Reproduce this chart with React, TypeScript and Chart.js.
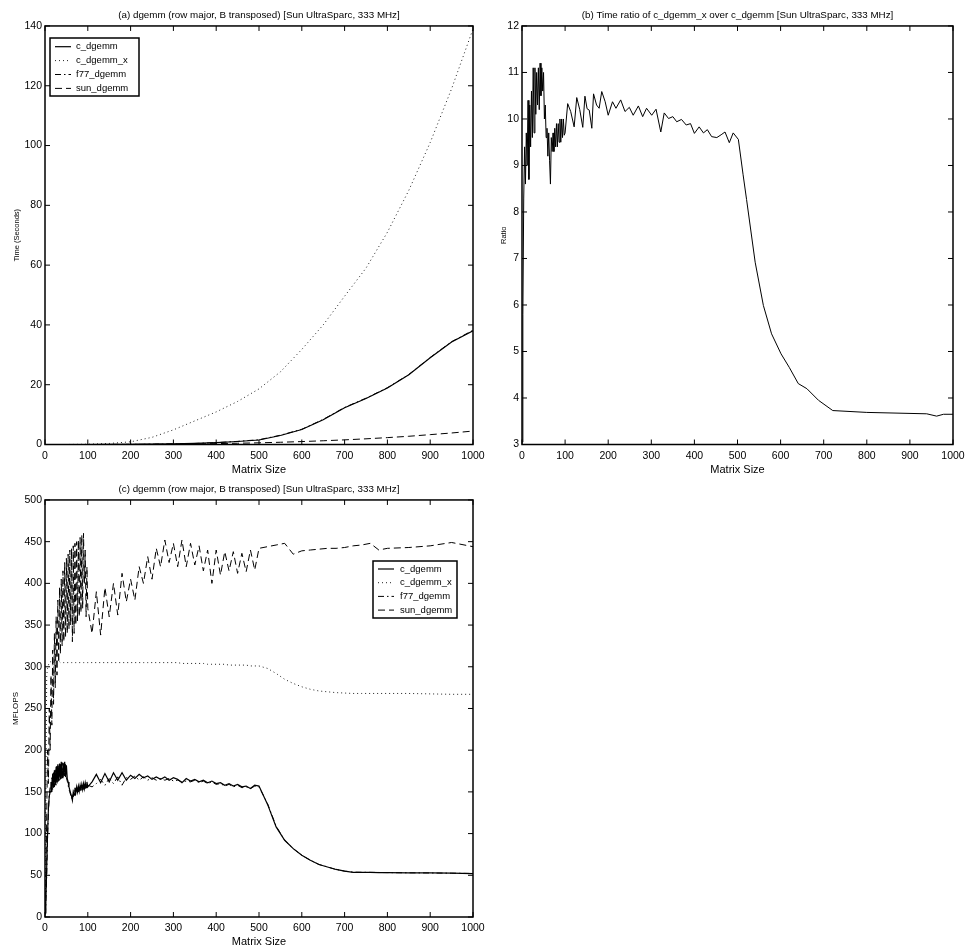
import React, { useEffect, useRef } from 'react';
import { Chart, registerables } from 'chart.js';

Chart.register(...registerables);

const FONT = "'Liberation Sans', Arial, Helvetica, sans-serif";

// ---------- (a) Time vs matrix size ----------
const timeSizes = [0, 50, 100, 150, 200, 250, 300, 350, 400, 450, 500, 550, 600, 650, 700, 750, 800, 850, 900, 950, 1000];
const timeCDgemm = [0, 0, 0, 0.02, 0.05, 0.1, 0.2, 0.35, 0.6, 1.0, 1.5, 3.0, 5.0, 8.3, 12.3, 15.4, 18.9, 23.3, 29.0, 34.3, 38];
const timeCDgemmX = [0, 0, 0.1, 0.35, 0.9, 2.4, 4.9, 7.9, 10.9, 14.4, 18.6, 24.3, 31.8, 40, 49.6, 59, 71, 85, 101, 119, 139];
const timeF77Dgemm = [0, 0, 0, 0.02, 0.05, 0.1, 0.2, 0.35, 0.62, 1.05, 1.6, 3.1, 5.1, 8.4, 12.4, 15.5, 19, 23.4, 29.1, 34.4, 38.2];
const timeSunDgemm = [0, 0, 0, 0.01, 0.03, 0.06, 0.12, 0.2, 0.3, 0.42, 0.56, 0.75, 0.98, 1.25, 1.55, 1.9, 2.3, 2.75, 3.3, 3.85, 4.5];

// ---------- (b) Time ratio ----------
const ratioSizes = [
  1, 2, 4, 6, 8, 10, 12, 14, 16, 18, 20, 22, 24, 26, 28, 30, 32, 34, 36, 38, 40, 42, 44, 46, 48, 50,
  52, 54, 56, 58, 60, 62, 64, 66, 68, 70, 72, 74, 76, 78, 80, 82, 84, 86, 88, 90, 92, 94, 96, 98, 100,
  106, 113, 121, 127, 134, 141, 146, 151, 156, 162, 166, 173, 179, 185, 193, 200, 210, 218, 229, 239,
  249, 258, 270, 280, 289, 301, 311, 322, 330, 340, 350, 359, 370, 381, 391, 400, 411, 421, 430, 440,
  452, 462, 471, 481, 490, 502,
  513, 521, 541, 560, 579, 601, 620, 641, 661, 688, 721, 800, 939, 962, 978, 1000,
];
const ratioValues = [
  3.05, 5.8, 8.3, 9.4, 8.6, 9.7, 9.0, 10.4, 8.7, 10.3, 9.4, 10.6, 9.6, 11.1, 9.7, 11.1, 10.1, 11.0, 10.3, 11.1, 10.2, 11.2, 10.5, 11.1, 10.6, 11.0,
  10.0, 10.3, 9.6, 9.8, 9.2, 9.7, 9.1, 8.6, 9.6, 9.3, 9.7, 9.3, 9.8, 9.4, 9.9, 9.4, 9.9, 9.5, 10.0, 9.5, 10.0, 9.6, 10.0, 9.65, 9.7,
  10.33, 10.16, 9.83, 10.46, 10.2, 9.82, 10.49, 10.22, 10.19, 9.8, 10.54, 10.3, 10.23, 10.59, 10.37, 10.08, 10.37, 10.23, 10.41, 10.16,
  10.25, 10.08, 10.28, 10.05, 10.23, 10.08, 10.21, 9.72, 10.13, 10.01, 10.05, 9.94, 9.99, 9.87, 9.9, 9.69, 9.83, 9.7, 9.77, 9.62,
  9.6, 9.66, 9.72, 9.49, 9.7, 9.56,
  8.8, 8.27, 6.92, 5.99, 5.38, 4.95, 4.66, 4.31, 4.2, 3.95, 3.73, 3.69, 3.66, 3.61, 3.65, 3.65,
];

// ---------- (c) MFLOPS ----------
const perfSizes = [
  1, 2, 4, 6, 8, 10, 12, 14, 16, 18, 20, 22, 24, 26, 28, 30, 32, 34, 36, 38, 40, 42, 44, 46, 48, 50,
  52, 54, 56, 58, 60, 62, 64, 66, 68, 70, 72, 74, 76, 78, 80, 82, 84, 86, 88, 90, 92, 94, 96, 98, 100,
  110, 120, 130, 140, 150, 160, 170, 180, 190, 200, 210, 220, 230, 240, 250, 260, 270, 280, 290, 300,
  310, 320, 330, 340, 350, 360, 370, 380, 390, 400, 410, 420, 430, 440, 450, 460, 470, 480, 490, 500,
  520, 540, 560, 580, 600, 620, 640, 660, 680, 700, 720, 740, 760, 780, 800, 850, 900, 950, 1000,
];
const mflopsCDgemm = [
  5, 20, 60, 100, 130, 145, 150, 162, 150, 172, 155, 176, 158, 180, 160, 183, 163, 184, 165, 186, 167, 185, 170, 186, 168, 182,
  166, 162, 156, 152, 148, 145, 140, 150, 146, 155, 149, 156, 150, 157, 151, 158, 152, 159, 153, 160, 154, 161, 155, 162, 156,
  162, 171, 161, 172, 162, 173, 164, 173, 164, 170, 166, 171, 167, 169, 165, 168, 165, 168, 164, 167,
  165, 161, 166, 163, 165, 162, 164, 161, 163, 160, 161, 158, 160, 157, 159, 156, 157, 154, 158, 157,
  135, 108, 92, 82, 74, 68, 63, 60, 57, 55, 53.5, 53.5, 53.5, 53.3, 53.2, 53, 52.8, 52.5, 52,
];
const mflopsCDgemmX = [
  0, 150, 290, 298, 302, 305, 306, 306, 305, 306, 305, 306, 305, 305, 306, 305, 305, 306, 305, 305, 305, 305, 305, 305, 305, 305,
  305, 305, 305, 305, 305, 305, 305, 305, 305, 305, 305, 305, 305, 305, 305, 305, 305, 305, 305, 305, 305, 305, 305, 305, 305,
  305, 305, 305, 305, 305, 305, 305, 305, 305, 305, 305, 305, 305, 305, 305, 305, 305, 305, 305, 305,
  305, 304, 304, 304, 304, 304, 304, 303, 303, 303, 303, 303, 302, 302, 302, 302, 302, 301, 301, 301,
  298, 292, 285, 280, 276, 273, 271, 270, 269, 268.5, 268, 268, 268, 268, 268, 268, 267.5, 267, 267,
];
const mflopsF77Dgemm = [
  3, 15, 50, 95, 125, 148, 155, 150, 168, 152, 173, 156, 178, 158, 181, 162, 182, 164, 184, 166, 185, 168, 184, 169, 183, 167,
  163, 158, 153, 150, 146, 142, 147, 144, 152, 148, 154, 149, 155, 150, 156, 151, 157, 152, 158, 153, 159, 154, 160, 155, 158,
  156, 160, 165, 158, 166, 160, 168, 158, 167, 165, 169, 164, 168, 164, 167, 164, 166, 164, 166, 163,
  164, 162, 163, 162, 164, 161, 163, 160, 162, 159, 160, 157, 159, 156, 158, 155, 156, 154, 157, 156,
  136, 109, 92, 82, 74, 68, 63, 60, 57, 55, 53.8, 53.6, 53.5, 53.4, 53.2, 53, 52.8, 52.5, 52.2,
];
const mflopsSunDgemm = [
  10, 40, 120, 200, 160, 250, 200, 290, 230, 320, 255, 340, 275, 360, 290, 380, 305, 395, 315, 405, 325, 415, 330, 425, 335, 430,
  340, 435, 345, 440, 350, 442, 330, 445, 340, 448, 350, 450, 355, 452, 360, 455, 365, 458, 370, 460, 400, 440, 360, 420, 370,
  340, 390, 338, 395, 360, 400, 362, 412, 378, 405, 380, 420, 400, 432, 405, 442, 420, 452, 425, 448,
  420, 452, 420, 448, 422, 445, 415, 440, 400, 440, 410, 438, 415, 438, 412, 436, 414, 440, 416, 442,
  444, 446, 448, 435, 439, 440, 441, 442, 442, 443, 445, 446, 448, 440, 442, 443, 445, 449, 444,
];

const seriesLabels = ['c_dgemm', 'c_dgemm_x', 'f77_dgemm', 'sun_dgemm'];

const STYLE_SOLID = { borderColor: '#000', borderWidth: 1.2, borderDash: [] as number[] };
const STYLE_DOT = { borderColor: '#222', borderWidth: 1, borderDash: [1, 3] };
const STYLE_DASHDOT = { borderColor: '#000', borderWidth: 1, borderDash: [6, 3, 1.5, 3] };
const STYLE_DASH = { borderColor: '#000', borderWidth: 1, borderDash: [7, 4] };

const pts = (xs: number[], ys: number[]) => xs.map((x, i) => ({ x, y: ys[i] }));

const matlabBox = {
  id: 'matlabBox',
  afterDatasetsDraw(chart: any, _args: any, opts: any) {
    const { ctx, chartArea, scales } = chart;
    const { left, right, top, bottom } = chartArea;
    const tl = 5;
    ctx.save();
    ctx.strokeStyle = '#000';
    ctx.setLineDash([]);
    ctx.lineWidth = 1;
    ctx.beginPath();
    scales.x.ticks.forEach((t: any) => {
      const p = scales.x.getPixelForValue(t.value);
      ctx.moveTo(p, bottom);
      ctx.lineTo(p, bottom - tl);
      ctx.moveTo(p, top);
      ctx.lineTo(p, top + tl);
    });
    scales.y.ticks.forEach((t: any) => {
      const p = scales.y.getPixelForValue(t.value);
      ctx.moveTo(left, p);
      ctx.lineTo(left + tl, p);
      ctx.moveTo(right, p);
      ctx.lineTo(right - tl, p);
    });
    ctx.stroke();
    ctx.lineWidth = 1.5;
    ctx.strokeRect(left, top, right - left, bottom - top);

    const L = opts && opts.legend;
    if (L) {
      ctx.fillStyle = '#fff';
      ctx.fillRect(L.x, L.y, L.w, L.h);
      ctx.lineWidth = 1.5;
      ctx.strokeStyle = '#000';
      ctx.strokeRect(L.x, L.y, L.w, L.h);
      ctx.font = `${L.fontSize}px ${FONT}`;
      ctx.textBaseline = 'middle';
      ctx.textAlign = 'left';
      chart.data.datasets.forEach((ds: any, i: number) => {
        const y = L.rowY + i * L.rowStep;
        ctx.strokeStyle = ds.borderColor;
        ctx.lineWidth = ds.borderWidth;
        ctx.setLineDash(ds.borderDash || []);
        ctx.beginPath();
        ctx.moveTo(L.sampleX, y);
        ctx.lineTo(L.sampleX + L.sampleW, y);
        ctx.stroke();
        ctx.setLineDash([]);
        ctx.fillStyle = '#000';
        ctx.fillText(ds.label, L.textX, y);
      });
    }
    ctx.restore();
  },
};

type Cfg = {
  datasets: any[];
  title: string;
  titlePadTop: number;
  titlePadBottom: number;
  yMin: number;
  yMax: number;
  yStep: number;
  yTitle: string;
  yTitleSize: number;
  yTitlePad: number;
  yWidth: number;
  xHeight: number;
  xTitlePadBottom: number;
  padRight: number;
  legend?: any;
};

function buildConfig(c: Cfg): any {
  const tickFont = { family: FONT, size: 10.5 };
  return {
    type: 'line',
    data: { datasets: c.datasets },
    plugins: [matlabBox],
    options: {
      animation: false,
      responsive: false,
      devicePixelRatio: 1,
      events: [],
      layout: { padding: { left: 0, right: c.padRight, top: 0, bottom: 0 } },
      elements: { point: { radius: 0 }, line: { tension: 0 } },
      plugins: {
        legend: { display: false },
        tooltip: { enabled: false },
        title: {
          display: true,
          text: c.title,
          fullSize: false,
          color: '#000',
          font: { family: FONT, size: 9.8, weight: 'normal' },
          padding: { top: c.titlePadTop, bottom: c.titlePadBottom },
        },
        matlabBox: { legend: c.legend },
      },
      scales: {
        x: {
          type: 'linear',
          min: 0,
          max: 1000,
          grid: { display: false, drawTicks: false },
          border: { display: false },
          ticks: {
            stepSize: 100,
            autoSkip: false,
            maxRotation: 0,
            color: '#000',
            font: tickFont,
            padding: 5,
            callback: (v: any) => String(v),
          },
          title: {
            display: true,
            text: 'Matrix Size',
            color: '#000',
            font: { family: FONT, size: 11 },
            padding: { top: 0, bottom: c.xTitlePadBottom },
          },
          afterFit: (s: any) => {
            s.height = c.xHeight;
            s.paddingLeft = 0;
            s.paddingRight = 0;
          },
        },
        y: {
          type: 'linear',
          min: c.yMin,
          max: c.yMax,
          grid: { display: false, drawTicks: false },
          border: { display: false },
          ticks: {
            stepSize: c.yStep,
            autoSkip: false,
            color: '#000',
            font: tickFont,
            padding: 3,
            callback: (v: any) => String(v),
          },
          title: {
            display: true,
            text: c.yTitle,
            color: '#000',
            font: { family: FONT, size: c.yTitleSize },
            padding: { top: c.yTitlePad, bottom: 0 },
          },
          afterFit: (s: any) => {
            s.width = c.yWidth;
            s.paddingTop = 0;
            s.paddingBottom = 0;
          },
        },
      },
    },
  };
}

function ChartCanvas({ left, top, width, height, make }: { left: number; top: number; width: number; height: number; make: () => any }) {
  const ref = useRef<HTMLCanvasElement | null>(null);
  useEffect(() => {
    if (!ref.current) return;
    const chart = new Chart(ref.current, make());
    return () => chart.destroy();
  }, []);
  return (
    <canvas
      ref={ref}
      width={width}
      height={height}
      style={{ position: 'absolute', left, top, width, height, display: 'block' }}
    />
  );
}

const makeA = () =>
  buildConfig({
    datasets: [
      { label: seriesLabels[0], data: pts(timeSizes, timeCDgemm), ...STYLE_SOLID },
      { label: seriesLabels[1], data: pts(timeSizes, timeCDgemmX), ...STYLE_DOT },
      { label: seriesLabels[2], data: pts(timeSizes, timeF77Dgemm), ...STYLE_DASHDOT },
      { label: seriesLabels[3], data: pts(timeSizes, timeSunDgemm), ...STYLE_DASH },
    ],
    title: '(a) dgemm (row major, B transposed) [Sun UltraSparc, 333 MHz]',
    titlePadTop: 9.1,
    titlePadBottom: 5.1,
    yMin: 0,
    yMax: 140,
    yStep: 20,
    yTitle: 'Time (Seconds)',
    yTitleSize: 7.5,
    yTitlePad: 12,
    yWidth: 45,
    xHeight: 33.5,
    xTitlePadBottom: 1.9,
    padRight: 19,
    legend: { x: 50, y: 38, w: 89, h: 58, sampleX: 55, sampleW: 16, textX: 76, rowY: 46.7, rowStep: 13.9, fontSize: 9.5 },
  });

const makeB = () =>
  buildConfig({
    datasets: [{ label: 'ratio', data: pts(ratioSizes, ratioValues), borderColor: '#000', borderWidth: 1, borderDash: [] }],
    title: '(b) Time ratio of c_dgemm_x over c_dgemm [Sun UltraSparc, 333 MHz]',
    titlePadTop: 9.1,
    titlePadBottom: 5.1,
    yMin: 3,
    yMax: 12,
    yStep: 1,
    yTitle: 'Ratio',
    yTitleSize: 7.5,
    yTitlePad: 15,
    yWidth: 38,
    xHeight: 33.5,
    xTitlePadBottom: 1.9,
    padRight: 16,
  });

const makeC = () =>
  buildConfig({
    datasets: [
      { label: seriesLabels[0], data: pts(perfSizes, mflopsCDgemm), ...STYLE_SOLID },
      { label: seriesLabels[1], data: pts(perfSizes, mflopsCDgemmX), ...STYLE_DOT },
      { label: seriesLabels[2], data: pts(perfSizes, mflopsF77Dgemm), ...STYLE_DASHDOT },
      { label: seriesLabels[3], data: pts(perfSizes, mflopsSunDgemm), ...STYLE_DASH },
    ],
    title: '(c) dgemm (row major, B transposed) [Sun UltraSparc, 333 MHz]',
    titlePadTop: 5.4,
    titlePadBottom: 4.8,
    yMin: 0,
    yMax: 500,
    yStep: 50,
    yTitle: 'MFLOPS',
    yTitleSize: 8,
    yTitlePad: 11,
    yWidth: 45,
    xHeight: 33,
    xTitlePadBottom: 1.4,
    padRight: 19,
    legend: { x: 373, y: 83, w: 84, h: 57, sampleX: 378, sampleW: 16, textX: 400, rowY: 91, rowStep: 13.7, fontSize: 9.5 },
  });

export default function App() {
  return (
    <div style={{ position: 'absolute', left: 0, top: 0, width: 969, height: 950, background: '#fff' }}>
      <ChartCanvas left={0} top={0} width={492} height={478} make={makeA} />
      <ChartCanvas left={484} top={0} width={485} height={478} make={makeB} />
      <ChartCanvas left={0} top={478} width={492} height={472} make={makeC} />
    </div>
  );
}
